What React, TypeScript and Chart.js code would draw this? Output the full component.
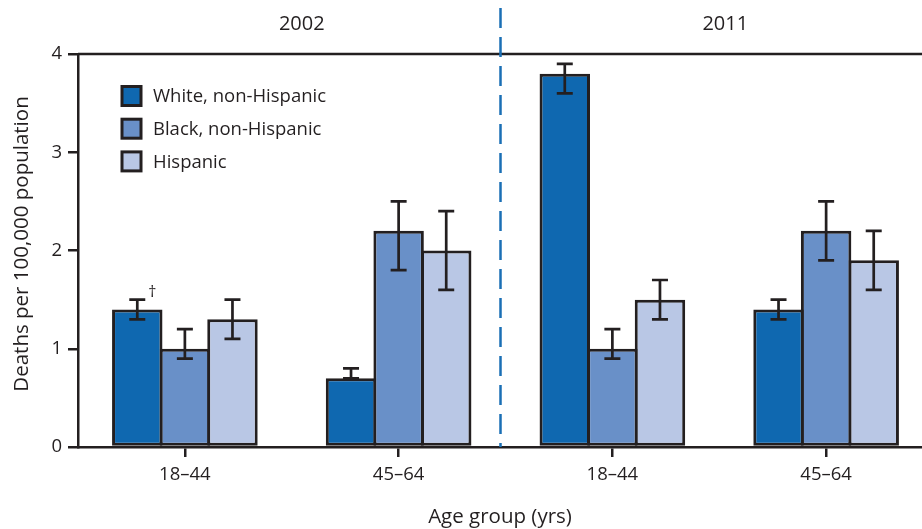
import React, { useEffect, useRef } from 'react';
import { Chart, registerables } from 'chart.js';

Chart.register(...registerables);

const categories = ['18–44', '45–64', '18–44', '45–64'];
const yearLabels = ['2002', '2011'];
const seriesLabels = ['White, non-Hispanic', 'Black, non-Hispanic', 'Hispanic'];
const whiteValues = [1.4, 0.7, 3.8, 1.4];
const whiteLower = [1.3, 0.7, 3.6, 1.3];
const whiteUpper = [1.5, 0.8, 3.9, 1.5];
const blackValues = [1.0, 2.2, 1.0, 2.2];
const blackLower = [0.9, 1.8, 0.9, 1.9];
const blackUpper = [1.2, 2.5, 1.2, 2.5];
const hispanicValues = [1.3, 2.0, 1.5, 1.9];
const hispanicLower = [1.1, 1.6, 1.3, 1.6];
const hispanicUpper = [1.5, 2.4, 1.7, 2.2];
const whiteMarks = ['†', '', '', ''];
const yTickValues = [0, 1, 2, 3, 4];
const yTitle = 'Deaths per 100,000 population';
const xTitle = 'Age group (yrs)';

const INK = '#231f20';
const FONT = '"Open Sans", "DejaVu Sans", sans-serif';
const colors = ['#0f68b0', '#6990c8', '#b9c7e5'];
const lowers = [whiteLower, blackLower, hispanicLower];
const uppers = [whiteUpper, blackUpper, hispanicUpper];

const overlayPlugin = {
  id: 'overlay',
  afterDatasetsDraw(chart: any) {
    const { ctx, chartArea, scales } = chart;
    const y = scales.y;
    const x = scales.x;
    ctx.save();
    // error bars
    ctx.strokeStyle = INK;
    ctx.lineWidth = 2.7;
    chart.data.datasets.forEach((ds: any, di: number) => {
      const meta = chart.getDatasetMeta(di);
      meta.data.forEach((el: any, i: number) => {
        const yHi = y.getPixelForValue(uppers[di][i]);
        const yLo = y.getPixelForValue(lowers[di][i]);
        ctx.beginPath();
        ctx.moveTo(el.x, yHi);
        ctx.lineTo(el.x, yLo);
        ctx.moveTo(el.x - 8, yHi);
        ctx.lineTo(el.x + 8, yHi);
        ctx.moveTo(el.x - 8, yLo);
        ctx.lineTo(el.x + 8, yLo);
        ctx.stroke();
        if (di === 0 && whiteMarks[i]) {
          ctx.fillStyle = INK;
          ctx.font = `16px ${FONT}`;
          ctx.textAlign = 'center';
          ctx.textBaseline = 'middle';
          ctx.fillText(whiteMarks[i], el.x + 15, yHi - 7);
        }
      });
    });
    // top frame line
    ctx.lineWidth = 2.5;
    ctx.beginPath();
    ctx.moveTo(chartArea.left, chartArea.top);
    ctx.lineTo(chartArea.right, chartArea.top);
    ctx.stroke();
    // dashed separator between years
    const sepX = (x.getPixelForValue(1) + x.getPixelForValue(2)) / 2 - 5;
    ctx.strokeStyle = '#1a6fb5';
    ctx.setLineDash([20, 9]);
    ctx.lineWidth = 2.5;
    ctx.beginPath();
    ctx.moveTo(sepX, 8);
    ctx.lineTo(sepX, chartArea.bottom);
    ctx.stroke();
    ctx.setLineDash([]);
    // year labels
    ctx.fillStyle = INK;
    ctx.font = `20px ${FONT}`;
    ctx.textAlign = 'center';
    ctx.textBaseline = 'middle';
    ctx.fillText(yearLabels[0], (x.getPixelForValue(0) + x.getPixelForValue(1)) / 2 + 10, 24);
    ctx.fillText(yearLabels[1], (x.getPixelForValue(2) + x.getPixelForValue(3)) / 2 + 6, 24);
    // legend
    ctx.font = `18.5px ${FONT}`;
    ctx.textAlign = 'left';
    chart.data.datasets.forEach((ds: any, di: number) => {
      const cy = 96 + di * 32.7;
      ctx.fillStyle = ds.backgroundColor;
      ctx.fillRect(122, cy - 9.5, 19, 19);
      ctx.strokeStyle = INK;
      ctx.lineWidth = 3;
      ctx.strokeRect(122, cy - 9.5, 19, 19);
      ctx.fillStyle = INK;
      ctx.fillText(ds.label, 153, cy + 1);
    });
    // axis titles
    ctx.font = `20.5px ${FONT}`;
    ctx.textAlign = 'center';
    ctx.fillText(xTitle, 500, 517);
    ctx.translate(22, 244);
    ctx.rotate(-Math.PI / 2);
    ctx.fillText(yTitle, 0, 0);
    ctx.restore();
  },
};

export default function App() {
  const ref = useRef<HTMLCanvasElement | null>(null);
  useEffect(() => {
    const canvas = ref.current;
    if (!canvas) return;
    const chart = new Chart(canvas, {
      type: 'bar',
      data: {
        labels: categories,
        datasets: [
          { label: seriesLabels[0], data: whiteValues, backgroundColor: colors[0] },
          { label: seriesLabels[1], data: blackValues, backgroundColor: colors[1] },
          { label: seriesLabels[2], data: hispanicValues, backgroundColor: colors[2] },
        ].map((d) => ({
          ...d,
          borderColor: INK,
          borderWidth: 3,
          borderSkipped: false,
          categoryPercentage: 0.668,
          barPercentage: 1.06,
        })),
      },
      options: {
        responsive: false,
        animation: false,
        devicePixelRatio: 1,
        layout: { padding: { top: 54, right: 7, left: 0, bottom: 0 } },
        plugins: { legend: { display: false }, tooltip: { enabled: false } },
        scales: {
          x: {
            type: 'category',
            offset: true,
            afterFit: (s: any) => {
              s.height = 82;
            },
            grid: {
              offset: false,
              drawOnChartArea: false,
              drawTicks: true,
              tickLength: 10,
              color: INK,
              lineWidth: 2.5,
            },
            border: { display: true, color: INK, width: 2.5 },
            ticks: {
              color: INK,
              font: { family: FONT, size: 18.5 },
              padding: 7,
              maxRotation: 0,
            },
          },
          y: {
            min: 0,
            max: 4,
            afterFit: (s: any) => {
              s.width = 78;
            },
            afterBuildTicks: (s: any) => {
              s.ticks = yTickValues.map((v) => ({ value: v }));
            },
            grid: {
              drawOnChartArea: false,
              drawTicks: true,
              tickLength: 10,
              color: INK,
              lineWidth: 2.5,
            },
            border: { display: true, color: INK, width: 2.5 },
            ticks: {
              color: INK,
              font: { family: FONT, size: 18.5 },
              padding: 6,
            },
          },
        },
      },
      plugins: [overlayPlugin],
    } as any);
    return () => chart.destroy();
  }, []);
  return (
    <div
      style={{
        position: 'fixed',
        left: 0,
        top: 0,
        width: 922,
        height: 529,
        overflow: 'hidden',
        background: '#fff',
      }}
    >
      <canvas ref={ref} width={940} height={529} style={{ width: 940, height: 529, display: 'block' }} />
    </div>
  );
}
